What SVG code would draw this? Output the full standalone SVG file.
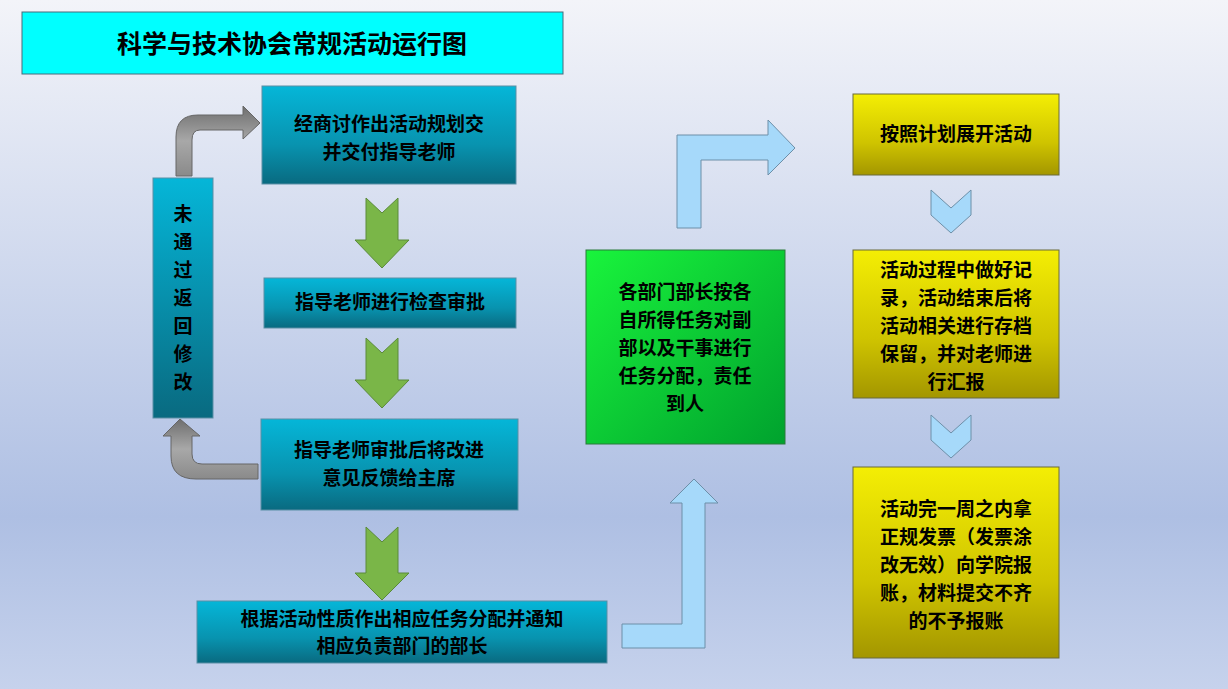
<svg xmlns="http://www.w3.org/2000/svg" width="1228" height="689" viewBox="0 0 1228 689">
<defs>
<linearGradient id="bg" x1="0" y1="0" x2="0" y2="1"><stop offset="0" stop-color="#F3F4F9"/><stop offset="0.75" stop-color="#AEBFE3"/><stop offset="1" stop-color="#C6D2EC"/></linearGradient>
<linearGradient id="teal" x1="0" y1="0" x2="0" y2="1"><stop offset="0" stop-color="#05B6D8"/><stop offset="0.6" stop-color="#0893AF"/><stop offset="1" stop-color="#096A80"/></linearGradient>
<linearGradient id="yel" x1="0" y1="0" x2="0" y2="1"><stop offset="0" stop-color="#F4EE04"/><stop offset="0.6" stop-color="#CFC400"/><stop offset="1" stop-color="#A39600"/></linearGradient>
<linearGradient id="grn" x1="0" y1="0" x2="1" y2="1"><stop offset="0" stop-color="#19F43C"/><stop offset="1" stop-color="#00A22E"/></linearGradient>
<linearGradient id="gray" x1="0" y1="0" x2="0" y2="1"><stop offset="0" stop-color="#6E6E6E"/><stop offset="0.5" stop-color="#A8A8A8"/><stop offset="1" stop-color="#8A8A8A"/></linearGradient>
<linearGradient id="vteal" x1="0" y1="0" x2="0" y2="1"><stop offset="0" stop-color="#05B6D8"/><stop offset="1" stop-color="#096A80"/></linearGradient>
</defs>
<style>
.box{stroke:#5A8FA5;stroke-width:1}
.ybox{fill:url(#yel);stroke:#6A6A3A;stroke-width:1}
.t{font-family:"Noto Sans CJK SC",sans-serif;font-weight:bold;font-size:19px;fill:#000;text-anchor:middle}
.ga{fill:#7AB648;stroke:#5A8A3A;stroke-width:1}
.ba{fill:#A6D9FA;stroke:#6D8FA8;stroke-width:1}
.gr{fill:url(#gray);stroke:#666;stroke-width:1}
</style>
<rect width="1228" height="689" fill="url(#bg)"/>
<g id="title"><rect x="22" y="12" width="541" height="62" fill="#00FFFF" stroke="#4A6A7A"/><text x="292" y="53" class="t" style="font-size:25px">科学与技术协会常规活动运行图</text></g>
<g id="connectors">
<path class="ga" d="M366,198 L382,213 L398,198 L398,240 L409,240 L382,268 L355,240 L366,240 Z"/>
<path class="ga" d="M366,338 L382,353 L398,338 L398,380 L409,380 L382,408 L355,380 L366,380 Z"/>
<path class="ga" d="M366,527 L382,542 L398,527 L398,573 L409,573 L382,600 L355,573 L366,573 Z"/>
<path class="gr" d="M176,176 L176,137 Q176,115 198,115 L243,115 L243,106 L260,123 L243,139 L243,130 L200,130 Q192,130 192,140 L192,176 Z"/>
<path class="gr" d="M258,464 L202,464 Q192,464 192,454 L192,436 L200,436 L180,419 L163,436 L171,436 L171,456 Q171,479 196,479 L258,479 Z"/>
<path class="ba" d="M677,228 L677,135 L768,135 L768,120 L795,148 L768,175 L768,160 L701,160 L701,228 Z"/>
<path class="ba" d="M622,624 L682,624 L682,503 L670,503 L694,479 L718,503 L705,503 L705,648 L622,648 Z"/>
<path class="ba" d="M931,190 L951,208 L971,190 L971,215 L951,233 L931,215 Z"/>
<path class="ba" d="M931,415 L951,433 L971,415 L971,440 L951,458 L931,440 Z"/>
</g>
<g id="n1"><rect class="box" x="262" y="86" width="254" height="98" fill="url(#teal)"/><text class="t" x="389" y="131">经商讨作出活动规划交</text><text class="t" x="389" y="159">并交付指导老师</text></g>
<g id="n2"><rect class="box" x="264" y="278" width="252" height="50" fill="url(#teal)"/><text class="t" x="390" y="309">指导老师进行检查审批</text></g>
<g id="n3"><rect class="box" x="261" y="419" width="257" height="91" fill="url(#teal)"/><text class="t" x="389" y="457">指导老师审批后将改进</text><text class="t" x="389" y="485">意见反馈给主席</text></g>
<g id="n4"><rect class="box" x="197" y="601" width="410" height="62" fill="url(#teal)"/><text class="t" x="402" y="626">根据活动性质作出相应任务分配并通知</text><text class="t" x="402" y="653">相应负责部门的部长</text></g>
<g id="n5"><rect class="box" x="153" y="178" width="60" height="240" fill="url(#vteal)"/>
<text class="t" x="183" y="221">未</text><text class="t" x="183" y="249">通</text><text class="t" x="183" y="277">过</text><text class="t" x="183" y="305">返</text><text class="t" x="183" y="333">回</text><text class="t" x="183" y="361">修</text><text class="t" x="183" y="389">改</text></g>
<g id="n6"><rect x="586" y="250" width="199" height="194" fill="url(#grn)" stroke="#2A7A3A"/>
<text class="t" x="685" y="299">各部门部长按各</text><text class="t" x="685" y="327">自所得任务对副</text><text class="t" x="685" y="355">部以及干事进行</text><text class="t" x="685" y="383">任务分配，责任</text><text class="t" x="685" y="411">到人</text></g>
<g id="n7"><rect class="ybox" x="853" y="94" width="206" height="81"/><text class="t" x="956" y="141">按照计划展开活动</text></g>
<g id="n8"><rect class="ybox" x="853" y="250" width="206" height="148"/>
<text class="t" x="956" y="277">活动过程中做好记</text><text class="t" x="956" y="305">录，活动结束后将</text><text class="t" x="956" y="333">活动相关进行存档</text><text class="t" x="956" y="361">保留，并对老师进</text><text class="t" x="956" y="389">行汇报</text></g>
<g id="n9"><rect class="ybox" x="853" y="467" width="206" height="191"/>
<text class="t" x="956" y="516">活动完一周之内拿</text><text class="t" x="956" y="544">正规发票（发票涂</text><text class="t" x="956" y="572">改无效）向学院报</text><text class="t" x="956" y="600">账，材料提交不齐</text><text class="t" x="956" y="628">的不予报账</text></g>
</svg>
